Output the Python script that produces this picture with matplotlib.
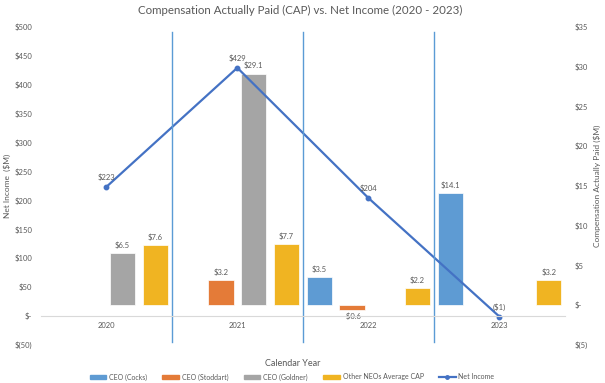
import matplotlib.pyplot as plt
import numpy as np

# data
years = ['2020', '2021', '2022', '2023']
cap_cocks = [np.nan, np.nan, 3.5, 14.1]
cap_stoddart = [np.nan, 3.2, -0.6, np.nan]
cap_goldner = [6.5, 29.1, np.nan, np.nan]
cap_other = [7.6, 7.7, 2.2, 3.2]
net_income = [223, 429, 204, -1]

series_names = ['CEO (Cocks)', 'CEO (Stoddart)', 'CEO (Goldner)', 'Other NEOs Average CAP']
series_colors = ['#5E9BD3', '#E47B38', '#A5A5A5', '#F0B422']
line_color = '#4472C4'
text_gray = '#595959'

plt.rcParams['font.family'] = ['Lato', 'DejaVu Sans']

fig = plt.figure(figsize=(6.05, 3.83), dpi=100)
ax = fig.add_axes([40.7 / 605, 1 - 345 / 383, (565 - 40.7) / 605, (345 - 26.7) / 383])
ax2 = ax.twinx()
ax.set_zorder(2)
ax2.set_zorder(1)
ax.patch.set_visible(False)

x = np.arange(len(years))
slot = 0.25
bar_w = slot * 25.3 / 32.7

# bars on the right (CAP) axis
all_cap = [cap_cocks, cap_stoddart, cap_goldner, cap_other]
for k, (vals, col) in enumerate(zip(all_cap, series_colors)):
    xs = x - 0.375 + slot * k
    ax2.bar(xs, vals, width=bar_w, color=col, edgecolor='white', linewidth=0.5)
    for xi, v in zip(xs, vals):
        if np.isnan(v):
            continue
        if v >= 0:
            ax2.annotate(f'${v:.1f}', (xi, v), xytext=(0, 3), textcoords='offset points',
                         ha='center', va='bottom', fontsize=5.5, color=text_gray)
        else:
            ax2.annotate(f'-${abs(v):.1f}', (xi, v), xytext=(0, -2), textcoords='offset points',
                         ha='center', va='top', fontsize=5.5, color=text_gray)

# net income line on the left axis
ax.plot(x, net_income, color=line_color, lw=1.6, marker='o', markersize=3.2)
for xi, v in zip(x, net_income):
    lbl = f'${v}' if v >= 0 else f'(${abs(v)})'
    ax.annotate(lbl, (xi, v), xytext=(0, 4), textcoords='offset points',
                ha='center', va='bottom', fontsize=5.5, color=text_gray)

# category separators
for b in [0.5, 1.5, 2.5]:
    ax.axvline(b, ymin=0.01, ymax=0.982, color='#5B9BD5', lw=1)

ax.set_xlim(-0.5, 3.5)
ax.set_ylim(-50, 500)
ax2.set_ylim(-5, 35)

ax.set_yticks(np.arange(-50, 501, 50))
ax.set_yticklabels(['$(50)', '$-'] + [f'${v}' for v in range(50, 501, 50)])
ax2.set_yticks(np.arange(-5, 36, 5))
ax2.set_yticklabels(['$(5)', '$-'] + [f'${v}' for v in range(5, 36, 5)])

ax.set_xticks(x)
ax.set_xticklabels(years)

for a in (ax, ax2):
    for s in a.spines.values():
        s.set_visible(False)
ax.spines['bottom'].set_visible(True)
ax.spines['bottom'].set_position(('data', 0))
ax.spines['bottom'].set_color('#D9D9D9')
ax.spines['bottom'].set_linewidth(0.8)

ax.tick_params(axis='x', length=0, pad=4, labelsize=5.5, labelcolor=text_gray)
ax.tick_params(axis='y', length=0, pad=6, labelsize=5.5, labelcolor=text_gray)
ax2.tick_params(axis='y', length=0, pad=7, labelsize=5.5, labelcolor=text_gray)

# axis titles placed by hand so they stay inside the canvas
fig.text(7 / 605, 1 - 186 / 383, 'Net Income  ($M)', rotation=90, ha='center', va='center',
         fontsize=6, color=text_gray)
fig.text(597 / 605, 1 - 186 / 383, 'Compensation Actually Paid ($M)', rotation=90,
         ha='center', va='center', fontsize=6, color=text_gray)

fig.text(293 / 605, 1 - 363 / 383, 'Calendar Year', ha='center', va='center',
         fontsize=6.5, color=text_gray)
fig.text(300 / 605, 1 - 10 / 383, 'Compensation Actually Paid (CAP) vs. Net Income (2020 - 2023)',
         ha='center', va='center', fontsize=8.3, color=text_gray)

# legend
handles = [plt.Rectangle((0, 0), 1, 1, color=c) for c in series_colors]
handles.append(plt.Line2D([], [], color=line_color, lw=1.6, marker='o', markersize=2.5))
fig.legend(handles, series_names + ['Net Income'], loc='center', ncol=5,
           bbox_to_anchor=(292 / 605, 1 - 377 / 383), frameon=False, fontsize=5,
           handlelength=2.4, handleheight=0.5, columnspacing=2.2, handletextpad=0.4,
           labelcolor=text_gray)

fig.savefig('out.png', dpi=100)
